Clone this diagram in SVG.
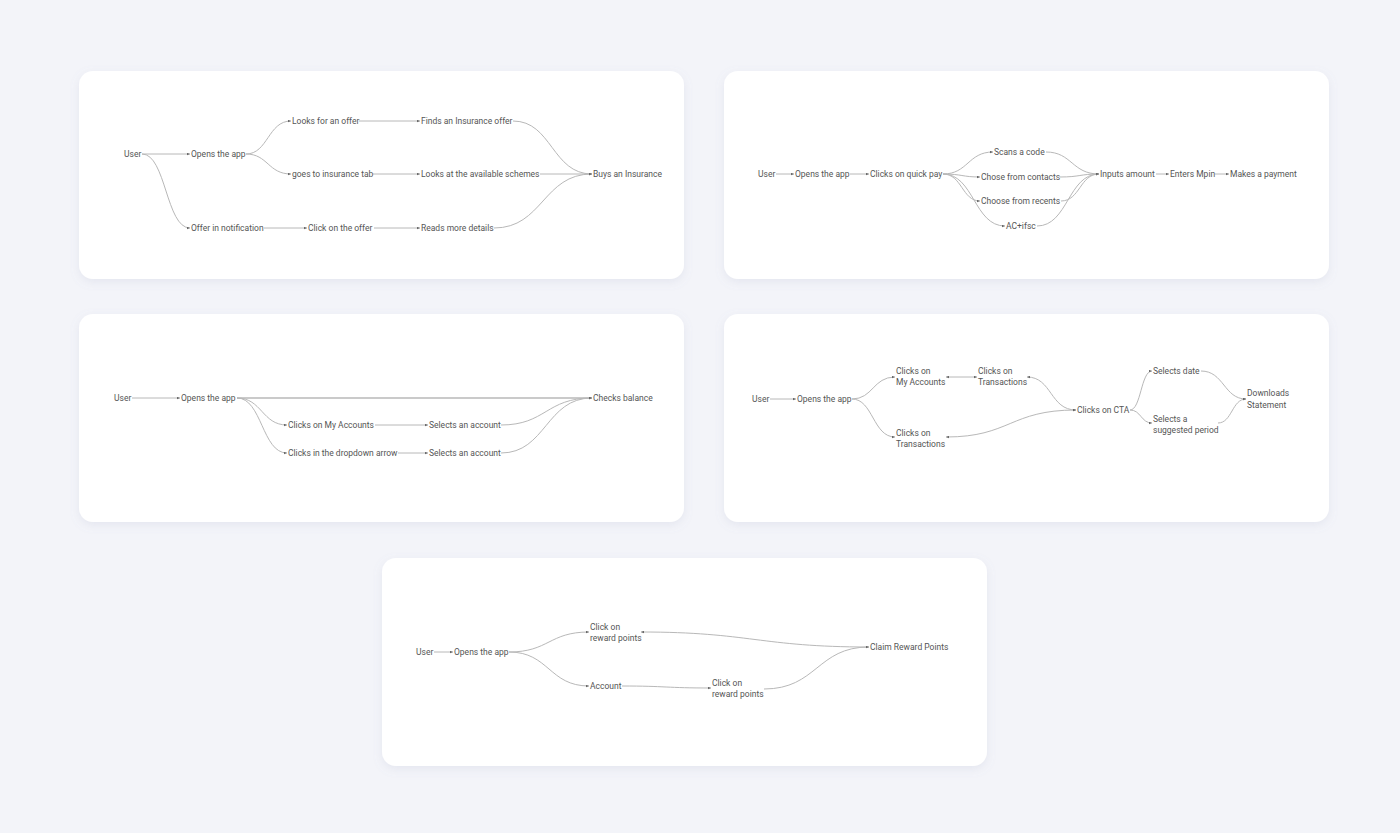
<svg xmlns="http://www.w3.org/2000/svg" width="1400" height="833" viewBox="0 0 1400 833">
<style>
.t{font-family:Roboto,"Liberation Sans",sans-serif;font-size:8.5px;fill:#555;}
.c{fill:none;stroke:#b8b8b8;stroke-width:1;marker-end:url(#ah);}
.card{fill:#fff;filter:url(#sh);}
</style>
<defs>
<filter id="sh" x="-5%" y="-10%" width="110%" height="125%">
<feDropShadow dx="0" dy="3" stdDeviation="5" flood-color="#8a90b0" flood-opacity="0.14"/>
</filter>
<marker id="ah" markerWidth="3" markerHeight="3" refX="3" refY="1.5" orient="auto" markerUnits="userSpaceOnUse">
<path d="M0,0.3 L3,1.5 L0,2.7 z" fill="#666"/>
</marker>
<marker id="as" markerWidth="3" markerHeight="3" refX="0" refY="1.5" orient="auto" markerUnits="userSpaceOnUse">
<path d="M3,0.3 L0,1.5 L3,2.7 z" fill="#666"/>
</marker>
</defs>
<rect width="1400" height="833" fill="#f3f4f9"/>

<g id="cards">
<rect class="card" x="79" y="71" width="605" height="208" rx="14"/>
<rect class="card" x="724" y="71" width="605" height="208" rx="14"/>
<rect class="card" x="79" y="314" width="605" height="208" rx="14"/>
<rect class="card" x="724" y="314" width="605" height="208" rx="14"/>
<rect class="card" x="382" y="558" width="605" height="208" rx="14"/>
</g>

<g id="connectors">
<!-- card 1 -->
<path class="c" d="M142,154 L190,154"/>
<path class="c" d="M142,154 C166,154 166,228 190,228"/>
<path class="c" d="M246,154 C268,154 268,121 291,121"/>
<path class="c" d="M246,154 C268,154 268,174 291,174"/>
<path class="c" d="M359,121 L420,121"/>
<path class="c" d="M373,174 L420,174"/>
<path class="c" d="M264,228 L307,228"/>
<path class="c" d="M374,228 L420,228"/>
<path class="c" d="M513,121 C552,121 552,174 592,174"/>
<path class="c" d="M540,174 L592,174"/>
<path class="c" d="M494,228 C543,228 543,174 592,174"/>
<!-- card 2 -->
<path class="c" d="M776,174 L794,174"/>
<path class="c" d="M850,174 L869,174"/>
<path class="c" d="M943,174 C968,174 968,152 993,152"/>
<path class="c" d="M943,174 C962,174 962,177 980,177"/>
<path class="c" d="M943,174 C962,174 962,201 980,201"/>
<path class="c" d="M943,174 C974,174 974,226 1005,226"/>
<path class="c" d="M1046,152 C1072,152 1072,174 1099,174"/>
<path class="c" d="M1060,177 C1080,177 1080,174 1099,174"/>
<path class="c" d="M1061,201 C1080,201 1080,174 1099,174"/>
<path class="c" d="M1037,226 C1068,226 1068,174 1099,174"/>
<path class="c" d="M1156,174 L1169,174"/>
<path class="c" d="M1215,174 L1229,174"/>
<!-- card 3 -->
<path class="c" d="M132,398 L180,398"/>
<path class="c" d="M237,398 L592,398" style="stroke-width:1.5"/>
<path class="c" d="M237,398 C262,398 262,425 287,425"/>
<path class="c" d="M237,398 C262,398 262,453 287,453"/>
<path class="c" d="M375,425 L428,425"/>
<path class="c" d="M398,453 L428,453"/>
<path class="c" d="M501,425 C546,425 546,398 592,398"/>
<path class="c" d="M501,453 C546,453 546,398 592,398"/>
<!-- card 4 -->
<path class="c" d="M770,399 L796,399"/>
<path class="c" d="M852,399 C873,399 873,377 895,377"/>
<path class="c" d="M852,399 C873,399 873,437 895,437"/>
<path class="c" d="M946,377 L977,377" style="marker-start:url(#as)"/>
<path class="c" d="M1076,410 C1050,410 1052,377 1027,377" style="marker-start:url(#as)"/>
<path class="c" d="M1076,410 C1010,410 1010,437 946,437" style="marker-start:url(#as)"/>
<path class="c" d="M1130,410 C1141,410 1141,371 1152,371"/>
<path class="c" d="M1130,410 C1141,410 1141,423 1152,423"/>
<path class="c" d="M1201,371 C1224,371 1224,399 1246,399"/>
<path class="c" d="M1218,423 C1232,423 1232,399 1246,399"/>
<!-- card 5 -->
<path class="c" d="M434,652 L453,652"/>
<path class="c" d="M509,652 C549,652 549,632 589,632"/>
<path class="c" d="M509,652 C549,652 549,686 589,686"/>
<path class="c" d="M869,647 C760,647 750,632 641,632"/>
<path class="c" d="M622,686 C666,686 666,688 711,688"/>
<path class="c" d="M764,689 C817,689 817,647 869,647"/>
</g>

<g id="card1-nodes">
<g id="n1-user"><text class="t" x="124" y="157">User</text></g>
<g id="n1-open"><text class="t" x="191" y="157">Opens the app</text></g>
<g id="n1-looks"><text class="t" x="292" y="124">Looks for an offer</text></g>
<g id="n1-finds"><text class="t" x="421" y="124">Finds an Insurance offer</text></g>
<g id="n1-goes"><text class="t" x="292" y="177">goes to insurance tab</text></g>
<g id="n1-schemes"><text class="t" x="421" y="177">Looks at the available schemes</text></g>
<g id="n1-buys"><text class="t" x="593" y="177">Buys an Insurance</text></g>
<g id="n1-notif"><text class="t" x="191" y="231">Offer in notification</text></g>
<g id="n1-click"><text class="t" x="308" y="231">Click on the offer</text></g>
<g id="n1-reads"><text class="t" x="421" y="231">Reads more details</text></g>
</g>

<g id="card2-nodes">
<g id="n2-user"><text class="t" x="758" y="177">User</text></g>
<g id="n2-open"><text class="t" x="795" y="177">Opens the app</text></g>
<g id="n2-quick"><text class="t" x="870" y="177">Clicks on quick pay</text></g>
<g id="n2-scan"><text class="t" x="994" y="155">Scans a code</text></g>
<g id="n2-contacts"><text class="t" x="981" y="180">Chose from contacts</text></g>
<g id="n2-recents"><text class="t" x="981" y="204">Choose from recents</text></g>
<g id="n2-ac"><text class="t" x="1006" y="229">AC+ifsc</text></g>
<g id="n2-amount"><text class="t" x="1100" y="177">Inputs amount</text></g>
<g id="n2-mpin"><text class="t" x="1170" y="177">Enters Mpin</text></g>
<g id="n2-pay"><text class="t" x="1230" y="177">Makes a payment</text></g>
</g>

<g id="card3-nodes">
<g id="n3-user"><text class="t" x="114" y="401">User</text></g>
<g id="n3-open"><text class="t" x="181" y="401">Opens the app</text></g>
<g id="n3-balance"><text class="t" x="593" y="401">Checks balance</text></g>
<g id="n3-myacc"><text class="t" x="288" y="428">Clicks on My Accounts</text></g>
<g id="n3-sel1"><text class="t" x="429" y="428">Selects an account</text></g>
<g id="n3-drop"><text class="t" x="288" y="456">Clicks in the dropdown arrow</text></g>
<g id="n3-sel2"><text class="t" x="429" y="456">Selects an account</text></g>
</g>

<g id="card4-nodes">
<g id="n4-user"><text class="t" x="752" y="402">User</text></g>
<g id="n4-open"><text class="t" x="797" y="402">Opens the app</text></g>
<g id="n4-myacc"><text class="t" x="896" y="374">Clicks on</text><text class="t" x="896" y="385">My Accounts</text></g>
<g id="n4-trans1"><text class="t" x="978" y="374">Clicks on</text><text class="t" x="978" y="385">Transactions</text></g>
<g id="n4-trans2"><text class="t" x="896" y="436">Clicks on</text><text class="t" x="896" y="447">Transactions</text></g>
<g id="n4-cta"><text class="t" x="1077" y="413">Clicks on CTA</text></g>
<g id="n4-date"><text class="t" x="1153" y="374">Selects date</text></g>
<g id="n4-period"><text class="t" x="1153" y="422">Selects a</text><text class="t" x="1153" y="433">suggested period</text></g>
<g id="n4-down"><text class="t" x="1247" y="396">Downloads</text><text class="t" x="1247" y="408">Statement</text></g>
</g>

<g id="card5-nodes">
<g id="n5-user"><text class="t" x="416" y="655">User</text></g>
<g id="n5-open"><text class="t" x="454" y="655">Opens the app</text></g>
<g id="n5-reward1"><text class="t" x="590" y="630">Click on</text><text class="t" x="590" y="641">reward points</text></g>
<g id="n5-account"><text class="t" x="590" y="689">Account</text></g>
<g id="n5-reward2"><text class="t" x="712" y="686">Click on</text><text class="t" x="712" y="697">reward points</text></g>
<g id="n5-claim"><text class="t" x="870" y="650">Claim Reward Points</text></g>
</g>
</svg>
